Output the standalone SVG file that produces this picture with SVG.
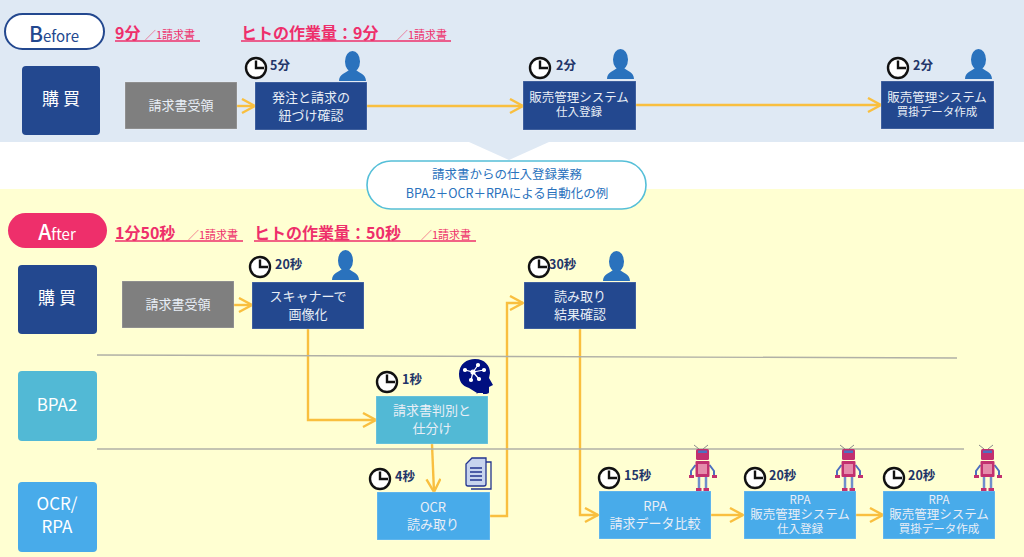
<svg xmlns="http://www.w3.org/2000/svg" width="1024" height="557" viewBox="0 0 1024 557">
<style>
text{font-family:"Noto Sans CJK JP","Noto Sans",sans-serif}
.box{stroke:#ffffff;stroke-opacity:.25;stroke-width:1}
.t{fill:#e8eef6;font-size:13px;text-anchor:middle}
.s{font-size:11.5px}
.lane{fill:#fff;font-size:17px;text-anchor:middle}
.time{fill:#1f3568;font-size:12.5px;font-weight:700}
.pink{fill:#ee2f6b;font-weight:700;font-size:16px}
.pinks{fill:#ee2f6b;font-size:11px}
.u{stroke:#ee2f6b;stroke-width:1.3;fill:none}
.con{fill:none;stroke:#f9bf3f;stroke-width:2.4}
.hd{fill:none;stroke:#f9bf3f;stroke-width:2.4}
.ln{stroke:#b0b0a6;stroke-width:1.4;fill:none}
</style>
<defs>
<marker id="ah" markerUnits="userSpaceOnUse" markerWidth="18" markerHeight="18" refX="14" refY="8" orient="auto"><path class="hd" d="M1 1 L14 8 L1 15"/></marker>
<g id="clock"><circle cx="11" cy="11" r="10" fill="#fff" stroke="#111" stroke-width="2.4"/><path d="M11 3.5V11H19" fill="none" stroke="#111" stroke-width="2.4"/></g>
<g id="person"><ellipse cx="13.500" cy="10.500" rx="7.500" ry="10.500" fill="#2a72bd"/><path d="M0 30C0 23 7 22 10 19H17C20 22 27 23 27 30Z" fill="#2a72bd"/></g>
<g id="robot">
<path d="M9 4 4 0M13 4 18 0" stroke="#8a8a8a" stroke-width="1"/>
<rect x="6" y="4" width="13" height="11" rx="1.500" fill="#c2306f"/><rect x="8" y="5.500" width="9" height="2.500" fill="#4d6fc0"/>
<path d="M5.500 20 1 26V33M19.500 20 24 26V33" fill="none" stroke="#4d6fc0" stroke-width="2"/>
<rect x="-1" y="30" width="5" height="3" fill="#c2306f"/><rect x="22" y="30" width="5" height="3" fill="#c2306f"/>
<rect x="5.500" y="16" width="14" height="16" rx="1" fill="#c2306f"/><rect x="8" y="19" width="9" height="10" fill="#e58bab"/>
<path d="M9 32V44M16 32V44" stroke="#6f8ecb" stroke-width="2.500"/><rect x="6" y="43" width="5.500" height="3" fill="#c2306f"/><rect x="13.500" y="43" width="5.500" height="3" fill="#c2306f"/>
</g>
</defs>
<rect width="1024" height="142" fill="#dfe9f4"/>
<rect y="189" width="1024" height="368" fill="#ffffd2"/>
<path d="M469 142H549L509 160Z" fill="#dfe9f4"/>
<g id="connectors">
<path class="con" d="M237 106H255" marker-end="url(#ah)"/>
<path class="con" d="M367 106H523" marker-end="url(#ah)"/>
<path class="con" d="M636 105H881" marker-end="url(#ah)"/>
<path class="con" d="M234 305H252" marker-end="url(#ah)"/>
<path class="con" d="M308 329V420H376" marker-end="url(#ah)"/>
<path class="con" d="M432 444 434 492" marker-end="url(#ah)"/>
<path class="con" d="M490 516H507V303H523" marker-end="url(#ah)"/>
<path class="con" d="M580 329V515H598" marker-end="url(#ah)"/>
<path class="con" d="M711 515H743" marker-end="url(#ah)"/>
<path class="con" d="M856 515H883" marker-end="url(#ah)"/>
</g>
<path class="ln" d="M97 355 957 358"/>
<path class="ln" d="M97 449H964"/>
<g id="before-label"><rect x="5" y="14" width="99" height="35" rx="17.500" fill="#fff" stroke="#23488f" stroke-width="2"/><text x="54" y="42" text-anchor="middle" fill="#23488f" font-size="15"><tspan font-size="21" font-weight="500">B</tspan>efore</text></g>
<g id="before-summary"><text x="115" y="39" class="pink">9分</text><text x="145" y="39" class="pinks">／1請求書</text><path class="u" d="M115 41H200"/>
<text x="241" y="39" class="pink">ヒトの作業量：9分</text><text x="397" y="39" class="pinks">／1請求書</text><path class="u" d="M241 41H451"/></g>
<g id="lane-buy-before"><rect x="22" y="66" width="78" height="69" rx="4" fill="#23488f"/><text x="61" y="105" class="lane">購 買</text></g>
<g id="b1"><rect class="box" x="125" y="82" width="112" height="47" fill="#7f7f7f"/><text x="181" y="110" class="t">請求書受領</text></g>
<g id="b2"><rect class="box" x="255" y="82" width="112" height="48" fill="#23488f"/><text x="311" y="102" class="t">発注と請求の</text><text x="311" y="120" class="t">紐づけ確認</text></g>
<g id="b3"><rect class="box" x="523" y="81" width="113" height="49" fill="#23488f"/><text x="579" y="102" class="t s" style="font-size:12.500px">販売管理システム</text><text x="579" y="115" class="t s" dy="1">仕入登録</text></g>
<g id="b4"><rect class="box" x="881" y="81" width="113" height="48" fill="#23488f"/><text x="937" y="102" class="t" style="font-size:12.500px">販売管理システム</text><text x="937" y="116" class="t s">買掛データ作成</text></g>
<use href="#clock" x="245" y="57"/><text x="270" y="70" class="time">5分</text><use href="#person" x="339" y="51"/>
<use href="#clock" x="529" y="57"/><text x="556" y="70" class="time">2分</text><use href="#person" x="607" y="49"/>
<use href="#clock" x="887" y="57"/><text x="913" y="70" class="time">2分</text><use href="#person" x="965" y="49"/>
<g id="callout"><rect x="367" y="161" width="279" height="48" rx="24" fill="#fff" stroke="#55bfd8" stroke-width="1.600"/><text x="507" y="179" text-anchor="middle" fill="#2a72bd" font-size="12.500">請求書からの仕入登録業務</text><text x="507" y="198" text-anchor="middle" fill="#2a72bd" font-size="12.500">BPA2＋OCR＋RPAによる自動化の例</text></g>
<g id="after-label"><rect x="8" y="213" width="99" height="35" rx="17.500" fill="#ee2f6b"/><text x="57" y="240" text-anchor="middle" fill="#fff" font-size="15"><tspan font-size="21" font-weight="500">A</tspan>fter</text></g>
<g id="after-summary"><text x="115" y="239" class="pink">1分50秒</text><text x="188" y="239" class="pinks">／1請求書</text><path class="u" d="M115 241H243"/>
<text x="254" y="239" class="pink">ヒトの作業量：50秒</text><text x="421" y="239" class="pinks">／1請求書</text><path class="u" d="M254 241H476"/></g>
<g id="lane-buy"><rect x="18" y="265" width="79" height="69" rx="4" fill="#23488f"/><text x="57" y="304" class="lane">購 買</text></g>
<g id="lane-bpa"><rect x="18" y="371" width="79" height="70" rx="4" fill="#52b9d5"/><text x="57" y="411" class="lane">BPA2</text></g>
<g id="lane-ocr"><rect x="18" y="482" width="79" height="70" rx="4" fill="#48abea"/><text x="57" y="510" class="lane">OCR/</text><text x="57" y="533" class="lane">RPA</text></g>
<g id="a1"><rect class="box" x="122" y="281" width="112" height="47" fill="#7f7f7f"/><text x="178" y="309" class="t">請求書受領</text></g>
<g id="a2"><rect class="box" x="252" y="282" width="112" height="47" fill="#23488f"/><text x="308" y="301" class="t">スキャナーで</text><text x="308" y="319" class="t">画像化</text></g>
<g id="a3"><rect class="box" x="524" y="282" width="112" height="47" fill="#23488f"/><text x="580" y="301" class="t">読み取り</text><text x="580" y="319" class="t">結果確認</text></g>
<g id="a4"><rect class="box" x="376" y="396" width="112" height="48" fill="#52b9d5"/><text x="432" y="415" class="t">請求書判別と</text><text x="432" y="433" class="t">仕分け</text></g>
<g id="a5"><rect class="box" x="377" y="492" width="113" height="48" fill="#48abea"/><text x="433" y="512" class="t">OCR</text><text x="433" y="529" class="t">読み取り</text></g>
<g id="a6"><rect class="box" x="599" y="491" width="112" height="48" fill="#48abea"/><text x="655" y="511" class="t">RPA</text><text x="655" y="528" class="t">請求データ比較</text></g>
<g id="a7"><rect class="box" x="744" y="491" width="112" height="48" fill="#48abea"/><text x="800" y="504" class="t s">RPA</text><text x="800" y="519" class="t" style="font-size:12.500px">販売管理システム</text><text x="800" y="533" class="t s">仕入登録</text></g>
<g id="a8"><rect class="box" x="883" y="491" width="112" height="48" fill="#48abea"/><text x="939" y="504" class="t s">RPA</text><text x="939" y="519" class="t" style="font-size:12.500px">販売管理システム</text><text x="939" y="533" class="t s">買掛データ作成</text></g>
<use href="#clock" x="249" y="256"/><text x="275" y="269" class="time">20秒</text><use href="#person" x="332" y="250"/>
<use href="#clock" x="528" y="256"/><text x="549" y="269" class="time">30秒</text><use href="#person" x="603" y="251"/>
<use href="#clock" x="376" y="371"/><text x="402" y="384" class="time">1秒</text>
<use href="#clock" x="369" y="468"/><text x="395" y="481" class="time">4秒</text>
<use href="#clock" x="598" y="467"/><text x="624" y="480" class="time">15秒</text>
<use href="#clock" x="744" y="467"/><text x="769" y="480" class="time">20秒</text>
<use href="#clock" x="883" y="467"/><text x="908" y="480" class="time">20秒</text>
<g id="brain"><path d="M459 374C459 364 467 359 475 359C485 359 490 366 490 373L489 378 493 385 489 387V392C489 394 486 394 483 394V393L477 393V393L478 393 476 394L477 393 469 388C462 386 459 381 459 374Z" fill="#000f80"/><g stroke="#fff" stroke-width="1.200" fill="#fff"><path d="M465 370 473 372 478 365M473 372 484 370M473 372 471 380M473 372 479 379" fill="none"/><circle cx="473" cy="372" r="2"/><circle cx="465" cy="370" r="1.500"/><circle cx="478" cy="365" r="1.500"/><circle cx="484" cy="370" r="1.500"/><circle cx="471" cy="380" r="1.500"/><circle cx="479" cy="379" r="1.500"/></g></g>
<g id="doc" stroke="#23358f" stroke-width="1.300"><path d="M471 462H491V489H471" fill="none"/><path d="M472 458H486V484C486 485 485 486 484 486H468C467 486 466 485 466 484V464Z" fill="#c7d4ee"/><path d="M470 468H482M470 472H482M470 476H482M470 480H482" fill="none"/></g>
<use href="#robot" x="690" y="445"/><use href="#robot" x="836" y="445"/><use href="#robot" x="975" y="445"/>
</svg>
